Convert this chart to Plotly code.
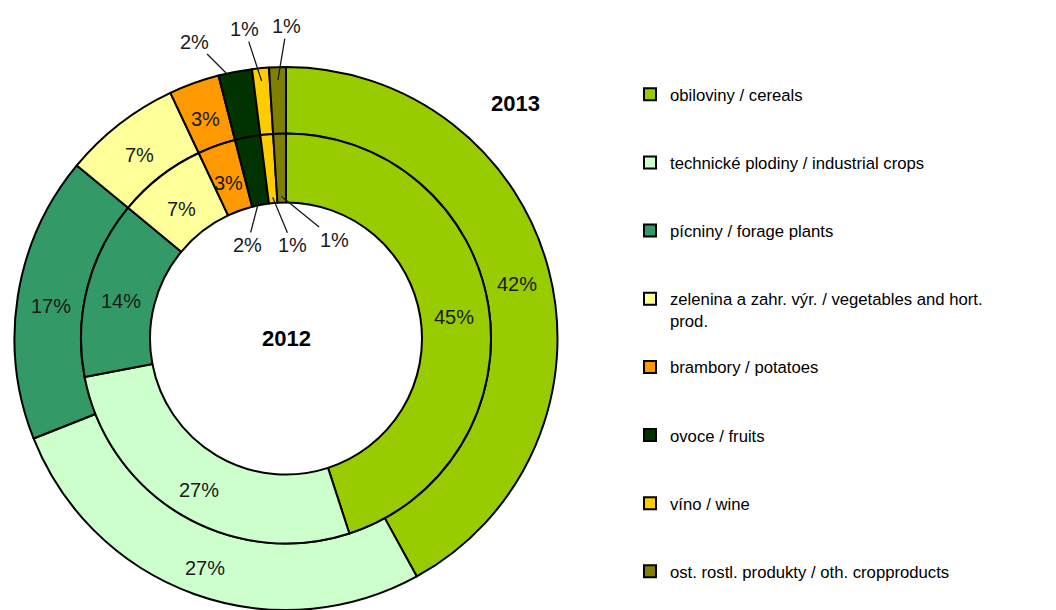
import numpy as np
import plotly.graph_objects as go

# crop categories (CZ / EN) and shares in %
labels = ["obiloviny / cereals",
          "technické plodiny / industrial crops",
          "pícniny / forage plants",
          "zelenina a zahr. výr. / vegetables and hort.<br>prod.",
          "brambory / potatoes",
          "ovoce / fruits",
          "víno / wine",
          "ost. rostl. produkty / oth. cropproducts"]
share_2013 = [42, 27, 17, 7, 3, 2, 1, 1]
share_2012 = [45, 27, 14, 7, 3, 2, 1, 1]
colors = ["#99CC00", "#CCFFCC", "#339966", "#FFFF99",
          "#FF9900", "#003300", "#FFCC00", "#808000"]

W, H = 1056, 610
cx, cy = 286, 338.5          # donut centre in px (from top-left)
R_out, R_mid, R_in = 271.5, 205, 136
FONT = "Liberation Sans, Arial, sans-serif"


def legend_text(lab, last=False):
    # pad entries to three lines so the legend gets Excel-like spacing
    if last:
        return lab
    n = lab.count("<br>") + 1
    return lab + "<br>&nbsp;" * (3 - n)


def dom(r):
    return dict(x=[(cx - r) / W, (cx + r) / W],
                y=[max(0, (H - cy - r) / H), (H - cy + r) / H])


def to_paper(frac, r):
    a = 2 * np.pi * frac
    return (cx + r * np.sin(a)) / W, 1 - (cy - r * np.cos(a)) / H


line = dict(color="black", width=2)
leg_labels = [legend_text(l, i == len(labels) - 1) for i, l in enumerate(labels)]

fig = go.Figure()
fig.add_trace(go.Pie(
    labels=leg_labels, values=share_2013, sort=False, direction="clockwise",
    rotation=0, hole=R_mid / R_out, domain=dom(R_out),
    marker=dict(colors=colors, line=line), textinfo="none",
    hoverinfo="label+value", name="2013"
))
fig.add_trace(go.Pie(
    labels=leg_labels, values=share_2012, sort=False, direction="clockwise",
    rotation=0, hole=R_in / R_mid, domain=dom(R_mid),
    marker=dict(colors=colors, line=line), textinfo="none",
    hoverinfo="label+value", name="2012", showlegend=False
))

annotations = []
# leader offsets (px) for the thin slices: fruits, wine, other
small_off = {
    "2013": [(-43, -43), (-17, -52), (9, -54)],
    "2012": [(-12, 46), (20, 48), (53, 43)],
}
lbl_font = dict(size=20, color="#1a1a1a", family=FONT)
rings = [("2013", share_2013, (R_mid + R_out) / 2, R_out - 13),
         ("2012", share_2012, (R_in + R_mid) / 2, R_in + 6)]
for year, vals, r_txt, r_lead in rings:
    cum = np.cumsum([0] + vals)
    total = cum[-1]
    k = 0
    for i, v in enumerate(vals):
        mid = (cum[i] + v / 2) / total
        if v >= 3:
            x, y = to_paper(mid, r_txt)
            annotations.append(dict(x=x, y=y, xref="paper", yref="paper",
                                    xanchor="center", yanchor="middle",
                                    text=f"{v}%", showarrow=False, yshift=-5,
                                    font=lbl_font))
        else:
            x, y = to_paper(mid, r_lead)
            ax, ay = small_off[year][k]
            k += 1
            annotations.append(dict(x=x, y=y, xref="paper", yref="paper",
                                    xanchor="center", yanchor="middle",
                                    text=f"{v}%", showarrow=True, arrowhead=0,
                                    arrowwidth=1.3, arrowcolor="#1a1a1a",
                                    ax=ax, ay=ay, standoff=0, font=lbl_font))

annotations.append(dict(x=515 / W, y=1 - 103 / H, xref="paper", yref="paper",
                        xanchor="center", yanchor="middle",
                        text="<b>2013</b>", showarrow=False,
                        font=dict(size=22, color="black", family=FONT)))
annotations.append(dict(x=cx / W, y=1 - 338 / H, xref="paper", yref="paper",
                        xanchor="center", yanchor="middle",
                        text="<b>2012</b>", showarrow=False,
                        font=dict(size=22, color="black", family=FONT)))

fig.update_layout(
    width=W, height=H,
    margin=dict(l=0, r=0, t=0, b=0),
    paper_bgcolor="white",
    annotations=annotations,
    legend=dict(x=630 / W, y=1 - 77 / H, xanchor="left", yanchor="top",
                valign="top", traceorder="normal",
                font=dict(size=16.7, color="black", family=FONT)),
)

fig.write_html("out.html", config={"displayModeBar": False},
               post_script="document.body.style.margin='0';")
